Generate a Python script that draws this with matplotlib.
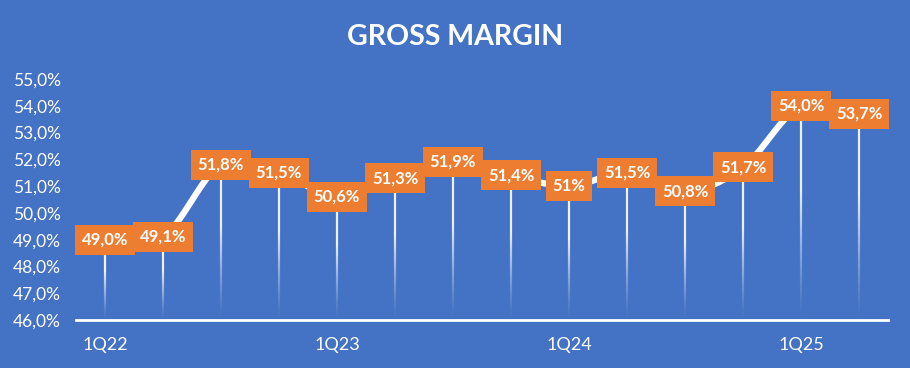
import matplotlib
matplotlib.use("Agg")
import matplotlib.pyplot as plt
import matplotlib.ticker as mticker
import numpy as np
from matplotlib.collections import LineCollection

QUARTERS = ["1Q22", "2Q22", "3Q22", "4Q22", "1Q23", "2Q23", "3Q23", "4Q23",
            "1Q24", "2Q24", "3Q24", "4Q24", "1Q25", "2Q25"]
GROSS_MARGIN = [49.0, 49.1, 51.8, 51.5, 50.6, 51.3, 51.9, 51.4, 51.0, 51.5, 50.8, 51.7, 54.0, 53.7]
POINT_LABELS = ["49,0%", "49,1%", "51,8%", "51,5%", "50,6%", "51,3%", "51,9%", "51,4%",
                "51%", "51,5%", "50,8%", "51,7%", "54,0%", "53,7%"]
Y_TICKS = [46, 47, 48, 49, 50, 51, 52, 53, 54, 55]

BG = "#4472C4"
ORANGE = "#ED7D31"
plt.rcParams["font.family"] = ["Lato", "DejaVu Sans"]


def smooth_curve(x, y, n=24):
    # Catmull-Rom style smoothing, like Excel's smoothed line
    x = np.asarray(x, float)
    y = np.asarray(y, float)
    px = np.concatenate([[x[0]], x, [x[-1]]])
    py = np.concatenate([[y[0]], y, [y[-1]]])
    xs, ys = [], []
    for i in range(1, len(px) - 2):
        t = np.linspace(0, 1, n, endpoint=False)
        for arr, out in ((px, xs), (py, ys)):
            p0, p1, p2, p3 = arr[i - 1], arr[i], arr[i + 1], arr[i + 2]
            out.extend(0.5 * ((2 * p1) + (-p0 + p2) * t + (2 * p0 - 5 * p1 + 4 * p2 - p3) * t ** 2
                              + (-p0 + 3 * p1 - 3 * p2 + p3) * t ** 3))
    xs.append(x[-1])
    ys.append(y[-1])
    return np.array(xs), np.array(ys)


fig = plt.figure(figsize=(9.1, 3.68), dpi=100, facecolor=BG)
ax = fig.add_axes([76 / 910, 1 - 320 / 368, (888 - 76) / 910, (320 - 79) / 368])
ax.set_facecolor(BG)

x = np.arange(len(QUARTERS))
ymin, ymax = 46, 55

# drop lines fading toward the axis
for xi, yi in zip(x, GROSS_MARGIN):
    ys = np.linspace(ymin, yi, 80)
    segs = [[(xi, ys[k]), (xi, ys[k + 1])] for k in range(len(ys) - 1)]
    frac = (ys[:-1] - ymin) / (yi - ymin)
    alphas = np.clip(frac / 0.6, 0, 1) ** 1.3 * 0.9
    colors = [(1, 1, 1, a) for a in alphas]
    ax.add_collection(LineCollection(segs, colors=colors, linewidths=1.6, zorder=2))

sx, sy = smooth_curve(x, GROSS_MARGIN)
ax.plot(sx, sy, color="white", linewidth=4.5, solid_capstyle="round", zorder=3)

for xi, yi, lab in zip(x, GROSS_MARGIN, POINT_LABELS):
    ax.text(xi, yi, lab, ha="center", va="center", color="white", fontsize=12,
            fontweight="bold", zorder=5,
            bbox=dict(boxstyle="square,pad=0.42", facecolor=ORANGE, edgecolor="none"))

ax.set_xlim(-0.5, len(QUARTERS) - 0.5)
ax.set_ylim(ymin, ymax)
ax.set_yticks(Y_TICKS)
ax.yaxis.set_major_formatter(mticker.FuncFormatter(lambda v, _: f"{v:.1f}%".replace(".", ",")))
ax.set_xticks(x[::4])
ax.set_xticklabels(QUARTERS[::4])

for side in ("top", "right", "left"):
    ax.spines[side].set_visible(False)
ax.spines["bottom"].set_color("white")
ax.spines["bottom"].set_linewidth(2)
ax.tick_params(axis="both", length=0, colors="white", labelsize=12.5)
ax.tick_params(axis="y", pad=11)
ax.tick_params(axis="x", pad=12, labelsize=13)

fig.text(455 / 910, 1 - 37 / 368, "GROSS MARGIN", ha="center", va="center", color="white",
         fontsize=20.5, fontweight="bold")

fig.savefig("out.png", dpi=100, facecolor=BG)
